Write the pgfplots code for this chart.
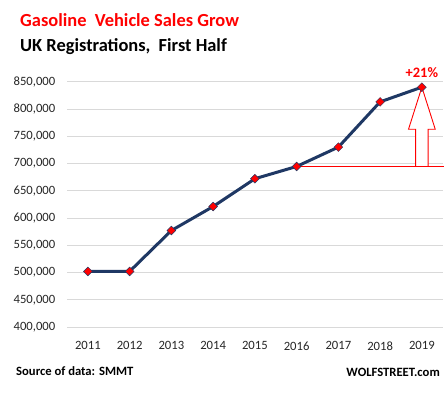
\documentclass[border=0pt]{standalone}
\usepackage{fontspec}
\setmainfont{Carlito}
\usepackage{pgfplots}
\pgfplotsset{compat=1.18}
\definecolor{navy}{HTML}{1F3864}
\definecolor{gridgray}{HTML}{D9D9D9}
\begin{document}
\begin{tikzpicture}[x=1bp,y=1bp]
\useasboundingbox (0,0) rectangle (444,392);
\begin{axis}[
  at={(67bp,65bp)}, anchor=south west,
  scale only axis, width=375.75bp, height=245.3bp,
  xmin=-0.5, xmax=8.5, ymin=400000, ymax=850000,
  xtick={0,1,2,3,4,5,6,7,8},
  xticklabels={2011,2012,2013,2014,2015,2016,2017,2018,2019},
  ytick={400000,450000,500000,550000,600000,650000,700000,750000,800000,850000},
  yticklabels={{400,000},{450,000},{500,000},{550,000},{600,000},{650,000},{700,000},{750,000},{800,000},{850,000}},
  scaled y ticks=false,
  ymajorgrids, grid style={gridgray, line width=0.9bp},
  axis line style={draw=none},
  major tick length=0pt,
  tick label style={font=\fontsize{12.7}{14}\selectfont, text=black!85},
  yticklabel style={anchor=east, inner sep=0pt, xshift=-11.5bp},
  xticklabel style={anchor=north, inner sep=0pt, yshift=-14.3bp},
  clip=false,
]
\draw[red, line width=0.9bp, fill=white]
  (axis cs:7.85,694500) -- (axis cs:7.85,762800) -- (axis cs:7.68,762800)
  -- (axis cs:8,840000) -- (axis cs:8.32,762800) -- (axis cs:8.15,762800)
  -- (axis cs:8.15,694500);
\draw[red, line width=1bp] (axis cs:5,694500) -- (axis cs:8.52,694500);
\addplot[navy, line width=3bp, mark=square*, mark size=3.1bp,
  mark options={rotate=45, fill=red, draw=navy, line width=0.5bp}]
  coordinates {(0,502000)(1,502000)(2,577000)(3,621000)(4,672000)(5,694500)(6,730000)(7,813000)(8,840000)};
\node[anchor=base, inner sep=0pt, text=red, font=\fontsize{14.5}{16}\selectfont\bfseries, yshift=9.5bp] at (axis cs:8,840000) {+21\%};
\end{axis}
\node[anchor=base west, inner sep=0pt, text=red, font=\fontsize{18.5}{20}\selectfont\bfseries] at (20,366) {Gasoline\hspace{0.45em}Vehicle Sales Grow};
\node[anchor=base west, inner sep=0pt, text=black, font=\fontsize{18.5}{20}\selectfont\bfseries] at (20,340.3) {UK Registrations,\hspace{0.45em}First Half};
\node[anchor=base west, inner sep=0pt, font=\fontsize{12.7}{14}\selectfont\bfseries] at (16,16.3) {Source of data: SMMT};
\node[anchor=base east, inner sep=0pt, font=\fontsize{12.7}{14}\selectfont\bfseries] at (440,15.3) {WOLFSTREET.com};
\end{tikzpicture}
\end{document}
